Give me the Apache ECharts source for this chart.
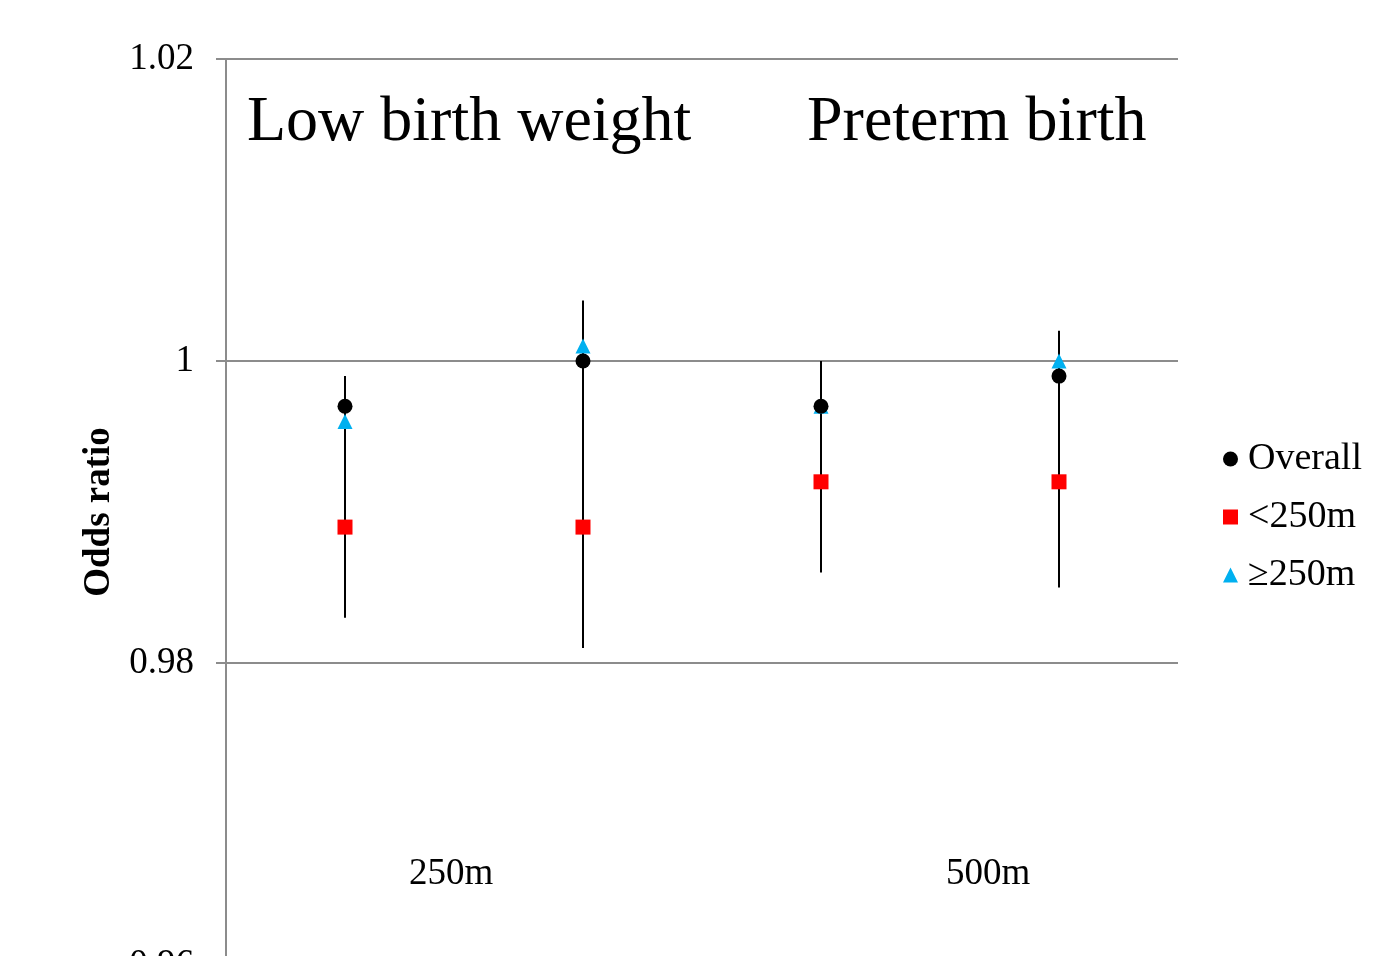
<!DOCTYPE html>
<html>
<head>
<meta charset="utf-8">
<script src="https://cdn.jsdelivr.net/npm/echarts@6/dist/echarts.min.js"></script>
<style>
  html, body { margin: 0; padding: 0; background: #fff; }
  #chart { width: 1382px; height: 956px; }
</style>
</head>
<body>
<div id="chart"></div>
<script>
// 数据
const categories = ['LBW 250m', 'LBW 500m', 'PTB 250m', 'PTB 500m'];
const overall = [0.997, 1.000, 0.997, 0.999];
const near = [0.989, 0.989, 0.992, 0.992];   // <250m
const far = [0.996, 1.001, 0.997, 1.000];    // ≥250m
const ciLow = [0.983, 0.981, 0.986, 0.985];
const ciHigh = [0.999, 1.004, 1.000, 1.002];
const yTicks = [0.96, 0.98, 1, 1.02];

const serif = "'Liberation Serif', 'Times New Roman', serif";
const gray = '#8c8c8c';

const chart = echarts.init(document.getElementById('chart'));

const option = {
  animation: false,
  backgroundColor: '#fff',
  grid: { left: 226, top: 59, width: 952, height: 906, outerBoundsMode: 'none', containLabel: false },
  legend: {
    orient: 'vertical',
    left: 1218,
    top: 435,
    itemWidth: 15,
    itemHeight: 15,
    itemGap: 20,
    textStyle: { fontFamily: serif, fontSize: 38, color: '#000', padding: [0, 0, 0, 5] },
    data: [
      { name: 'Overall', icon: 'circle', itemStyle: { color: '#000' } },
      { name: '<250m', icon: 'rect', itemStyle: { color: '#ff0000' } },
      { name: '≥250m', icon: 'triangle', itemStyle: { color: '#00b0f0' } }
    ]
  },
  xAxis: {
    type: 'category',
    data: categories,
    axisLine: { show: false },
    axisTick: { show: false },
    axisLabel: { show: false },
    splitLine: { show: false }
  },
  yAxis: {
    type: 'value',
    min: yTicks[0],
    max: yTicks[yTicks.length - 1],
    interval: 0.02,
    name: 'Odds ratio',
    nameLocation: 'middle',
    nameGap: 105,
    nameTextStyle: { fontFamily: serif, fontSize: 37, fontWeight: 'bold', color: '#000' },
    axisLine: { show: true, lineStyle: { color: gray, width: 2 } },
    axisTick: { show: true, length: 10, lineStyle: { color: gray, width: 2 } },
    axisLabel: {
      margin: 32,
      fontFamily: serif,
      fontSize: 37,
      color: '#000',
      formatter: v => String(parseFloat(v.toFixed(2)))
    },
    splitLine: { show: true, lineStyle: { color: gray, width: 2 } }
  },
  graphic: [
    { type: 'text', left: 247, top: 91, style: { text: 'Low birth weight', font: '64px ' + serif, fill: '#000' } },
    { type: 'text', left: 807, top: 91, style: { text: 'Preterm birth', font: '64px ' + serif, fill: '#000' } },
    { type: 'text', left: 409, top: 856, style: { text: '250m', font: '37px ' + serif, fill: '#000' } },
    { type: 'text', left: 946, top: 856, style: { text: '500m', font: '37px ' + serif, fill: '#000' } }
  ],
  series: [
    {
      name: 'CI',
      type: 'custom',
      z: 1,
      data: categories.map((c, i) => [i, ciLow[i], ciHigh[i]]),
      renderItem: function (params, api) {
        const lo = api.coord([api.value(0), api.value(1)]);
        const hi = api.coord([api.value(0), api.value(2)]);
        return {
          type: 'line',
          shape: { x1: lo[0], y1: lo[1], x2: hi[0], y2: hi[1] },
          style: { stroke: '#000', lineWidth: 2 }
        };
      }
    },
    {
      name: '≥250m',
      type: 'scatter',
      z: 2,
      symbol: 'triangle',
      symbolSize: 15,
      itemStyle: { color: '#00b0f0', opacity: 1 },
      data: far.map((v, i) => [i, v])
    },
    {
      name: '<250m',
      type: 'scatter',
      z: 3,
      symbol: 'rect',
      symbolSize: 15,
      itemStyle: { color: '#ff0000', opacity: 1 },
      data: near.map((v, i) => [i, v])
    },
    {
      name: 'Overall',
      type: 'scatter',
      z: 4,
      symbol: 'circle',
      symbolSize: 15,
      itemStyle: { color: '#000', opacity: 1 },
      data: overall.map((v, i) => [i, v])
    }
  ]
};

chart.setOption(option);
</script>
</body>
</html>
